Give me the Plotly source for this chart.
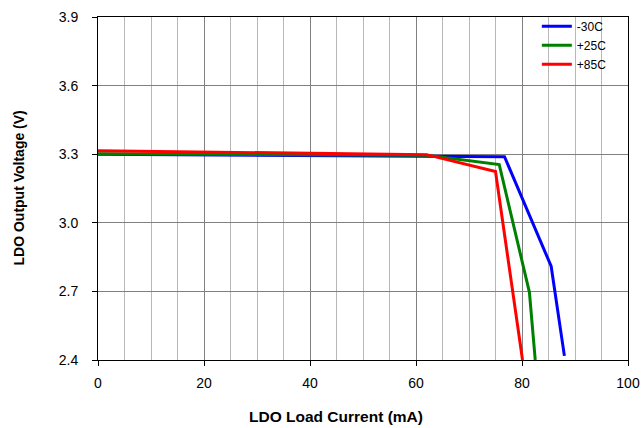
import plotly.graph_objects as go

series_names = ["-30C", "+25C", "+85C"]
colors = ["#0000ff", "#008000", "#ff0000"]
x_m30 = [0, 62, 76.7, 85.5, 88.0]
y_m30 = [3.300, 3.293, 3.289, 2.81, 2.418]
x_p25 = [0, 62, 75.7, 81.4, 82.5]
y_p25 = [3.302, 3.295, 3.255, 2.696, 2.4]
x_p85 = [0, 62, 75.0, 80.1]
y_p85 = [3.315, 3.298, 3.224, 2.4]

xs = [x_m30, x_p25, x_p85]
ys = [y_m30, y_p25, y_p85]

fig = go.Figure()
for n, c, x, y in zip(series_names, colors, xs, ys):
    fig.add_trace(go.Scatter(x=x, y=y, mode="lines", name=n,
                             line=dict(color=c, width=3), cliponaxis=True))

font = "Liberation Sans, Arial, sans-serif"
fig.update_layout(
    width=641, height=428,
    margin=dict(l=98, r=13, t=14, b=68),
    paper_bgcolor="white", plot_bgcolor="white",
    font=dict(family=font, size=14, color="black"),
    showlegend=True,
    legend=dict(x=0.828, y=1.015, xanchor="left", yanchor="top",
                bgcolor="rgba(0,0,0,0)", font=dict(size=12),
                tracegroupgap=0, itemwidth=30),
    xaxis=dict(range=[0, 100], dtick=20, tick0=0, automargin=False,
               showgrid=True, gridcolor="#808080", gridwidth=1,
               minor=dict(dtick=5, showgrid=True, gridcolor="#b8b8b8", gridwidth=1),
               showline=True, linecolor="black", linewidth=1, mirror=True,
               ticks="outside", ticklen=5, tickcolor="black",
               zeroline=False, tickfont=dict(size=14), ticklabelstandoff=5),
    yaxis=dict(range=[2.4, 3.9], dtick=0.3, tick0=2.4, tickformat=".1f", automargin=False,
               showgrid=True, gridcolor="#808080", gridwidth=1,
               showline=True, linecolor="black", linewidth=1, mirror=True,
               ticks="outside", ticklen=5, tickcolor="black",
               zeroline=False, tickfont=dict(size=14), ticklabelstandoff=11),
    annotations=[
        dict(text="<b>LDO Load Current (mA)</b>", xref="paper", yref="paper",
             x=0.449, y=0, yshift=-56, xanchor="center", yanchor="middle",
             showarrow=False, font=dict(size=15.5)),
        dict(text="<b>LDO Output Voltage (V)</b>", xref="paper", yref="paper",
             x=0, y=0.5, xshift=-80, xanchor="center", yanchor="middle",
             textangle=-90, showarrow=False, font=dict(size=14)),
    ],
)

fig.write_html(
    "out.html",
    config={"displayModeBar": False},
    post_script="document.body.style.margin='0';document.body.style.overflow='hidden';",
)
